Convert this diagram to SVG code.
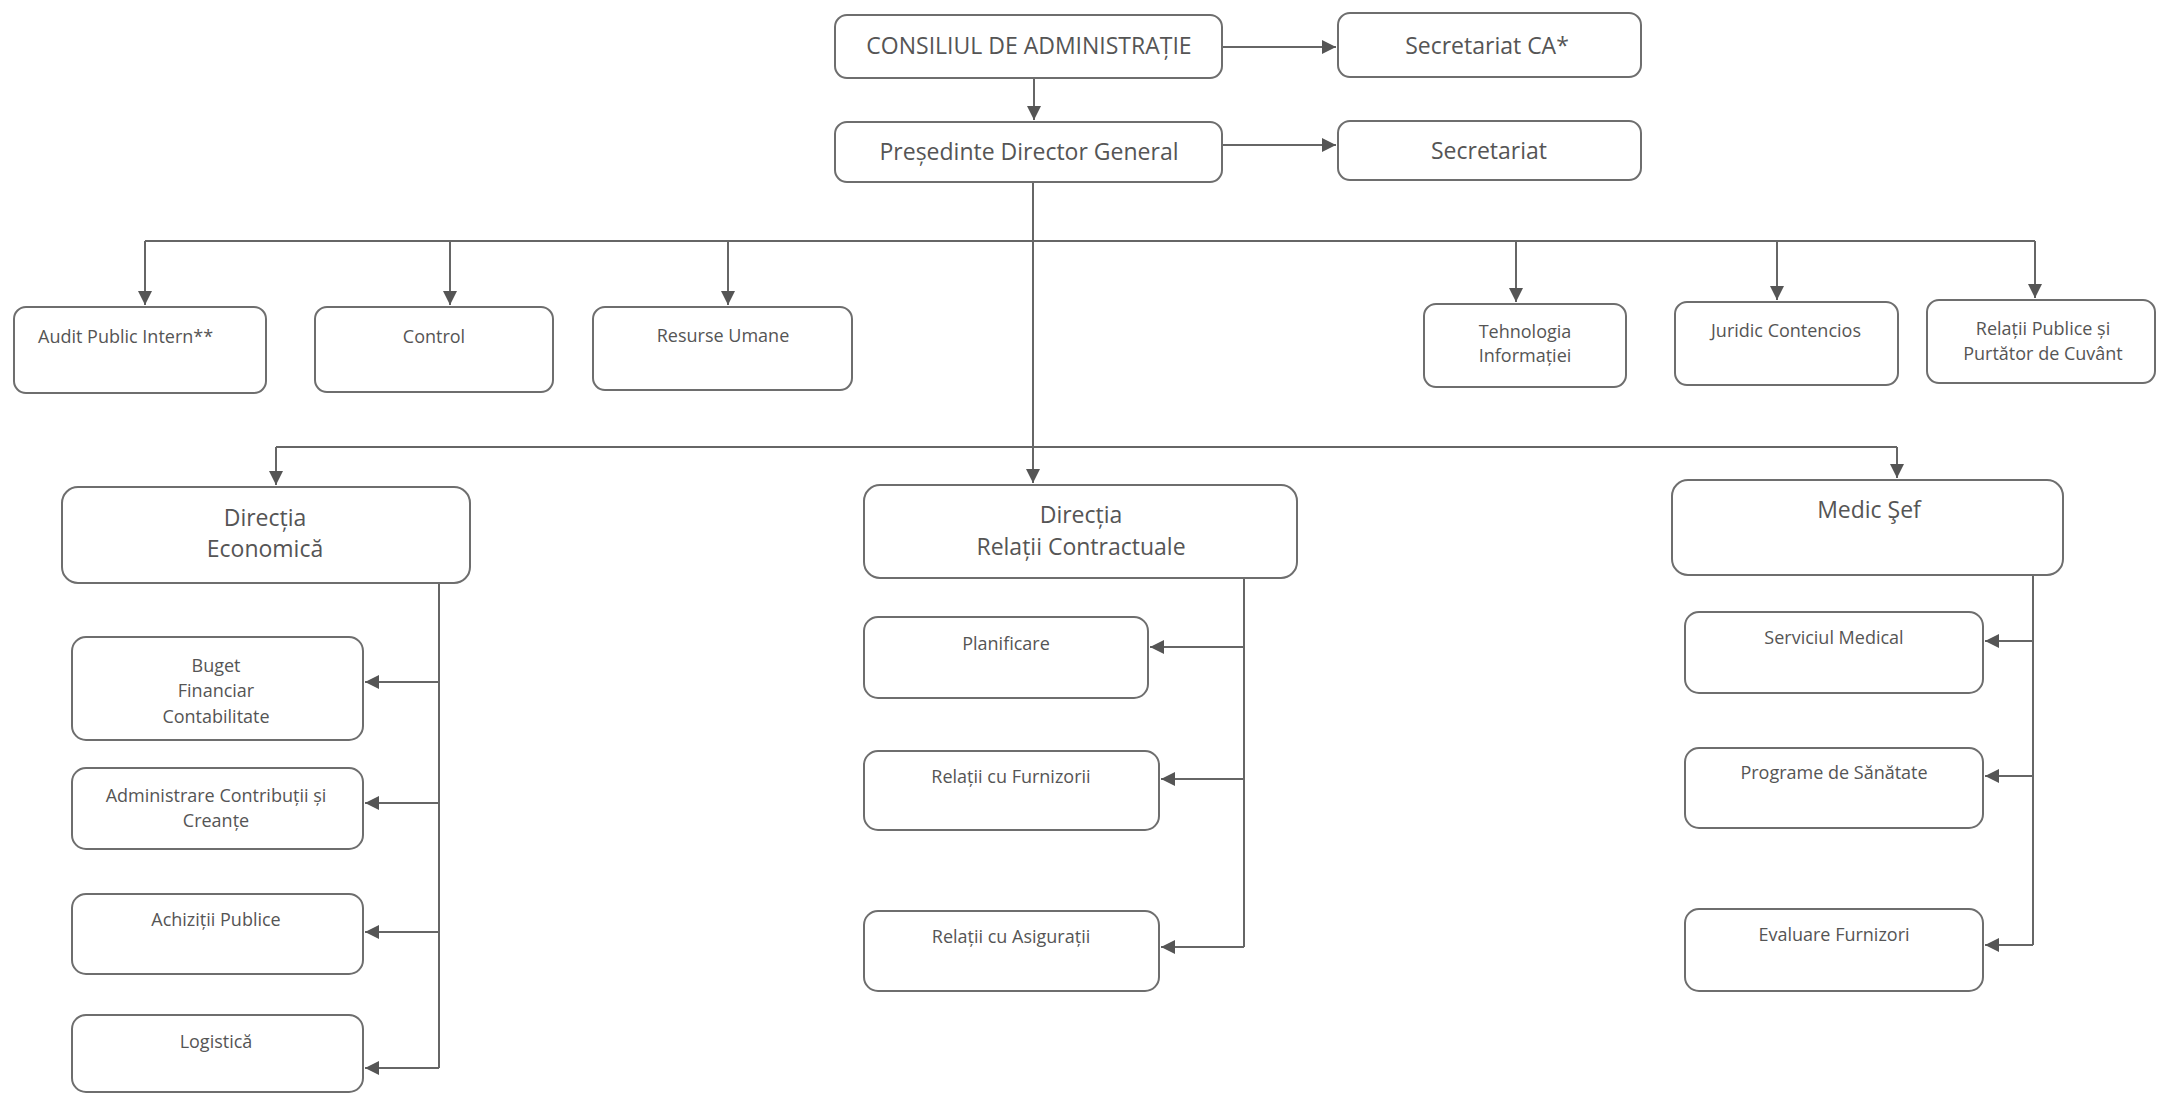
<svg xmlns="http://www.w3.org/2000/svg" width="2157" height="1094" viewBox="0 0 2157 1094">
<defs>
<style>
.box{fill:#fff;stroke:#6e6e6e;stroke-width:2}
.t{font-family:"Open Sans","Liberation Sans",sans-serif;fill:#555;text-anchor:middle}
.t1{font-size:23px}
.t2{font-size:18px}
.t3{font-size:23px}
.c{fill:none;stroke:#666;stroke-width:2}
</style>
<marker id="ar" markerUnits="userSpaceOnUse" markerWidth="16" markerHeight="14" refX="14" refY="7" orient="auto">
<path d="M0,0 L14,7 L0,14 Z" fill="#555"/>
</marker>
</defs>
<rect width="2157" height="1094" fill="#fff"/>

<g id="connectors">
<path class="c" d="M1222,47 H1336" marker-end="url(#ar)"/>
<path class="c" d="M1034,78 V120" marker-end="url(#ar)"/>
<path class="c" d="M1222,145 H1336" marker-end="url(#ar)"/>
<path class="c" d="M1033,182 V483" marker-end="url(#ar)"/>
<path class="c" d="M145,241 H2035"/>
<path class="c" d="M145,241 V305" marker-end="url(#ar)"/>
<path class="c" d="M450,241 V305" marker-end="url(#ar)"/>
<path class="c" d="M728,241 V305" marker-end="url(#ar)"/>
<path class="c" d="M1516,241 V302" marker-end="url(#ar)"/>
<path class="c" d="M1777,241 V300" marker-end="url(#ar)"/>
<path class="c" d="M2035,241 V298" marker-end="url(#ar)"/>
<path class="c" d="M276,447 H1897"/>
<path class="c" d="M276,447 V485" marker-end="url(#ar)"/>
<path class="c" d="M1897,447 V478" marker-end="url(#ar)"/>
<path class="c" d="M439,583 V1068"/>
<path class="c" d="M439,682 H365" marker-end="url(#ar)"/>
<path class="c" d="M439,803 H365" marker-end="url(#ar)"/>
<path class="c" d="M439,932 H365" marker-end="url(#ar)"/>
<path class="c" d="M439,1068 H365" marker-end="url(#ar)"/>
<path class="c" d="M1244,578 V947"/>
<path class="c" d="M1244,647 H1150" marker-end="url(#ar)"/>
<path class="c" d="M1244,779 H1161" marker-end="url(#ar)"/>
<path class="c" d="M1244,947 H1161" marker-end="url(#ar)"/>
<path class="c" d="M2033,575 V945"/>
<path class="c" d="M2033,641 H1985" marker-end="url(#ar)"/>
<path class="c" d="M2033,776 H1985" marker-end="url(#ar)"/>
<path class="c" d="M2033,945 H1985" marker-end="url(#ar)"/>
</g>

<g id="consiliu"><rect class="box" x="835" y="15" width="387" height="63" rx="12"/><text class="t t1" x="1029" y="54">CONSILIUL DE ADMINISTRAȚIE</text></g>
<g id="secretariat-ca"><rect class="box" x="1338" y="13" width="303" height="64" rx="12"/><text class="t t1" x="1487" y="54">Secretariat CA*</text></g>
<g id="presedinte"><rect class="box" x="835" y="122" width="387" height="60" rx="12"/><text class="t t1" x="1029" y="160">Președinte Director General</text></g>
<g id="secretariat"><rect class="box" x="1338" y="121" width="303" height="59" rx="12"/><text class="t t1" x="1489" y="159">Secretariat</text></g>

<g id="audit"><rect class="box" x="14" y="307" width="252" height="86" rx="12"/><text class="t t2" x="38" y="343" style="text-anchor:start">Audit Public Intern**</text></g>
<g id="control"><rect class="box" x="315" y="307" width="238" height="85" rx="12"/><text class="t t2" x="434" y="343">Control</text></g>
<g id="resurse"><rect class="box" x="593" y="307" width="259" height="83" rx="12"/><text class="t t2" x="723" y="342">Resurse Umane</text></g>
<g id="tehnologia"><rect class="box" x="1424" y="304" width="202" height="83" rx="12"/><text class="t t2" x="1525" y="338">Tehnologia</text><text class="t t2" x="1525" y="362">Informației</text></g>
<g id="juridic"><rect class="box" x="1675" y="302" width="223" height="83" rx="12"/><text class="t t2" x="1786" y="337">Juridic Contencios</text></g>
<g id="relatii-publice"><rect class="box" x="1927" y="300" width="228" height="83" rx="12"/><text class="t t2" x="2043" y="335">Relații Publice și</text><text class="t t2" x="2043" y="360">Purtător de Cuvânt</text></g>

<g id="directia-economica"><rect class="box" x="62" y="487" width="408" height="96" rx="16"/><text class="t t3" x="265" y="526">Direcția</text><text class="t t3" x="265" y="557">Economică</text></g>
<g id="directia-relatii"><rect class="box" x="864" y="485" width="433" height="93" rx="16"/><text class="t t3" x="1081" y="523">Direcția</text><text class="t t3" x="1081" y="555">Relații Contractuale</text></g>
<g id="medic-sef"><rect class="box" x="1672" y="480" width="391" height="95" rx="16"/><text class="t t3" x="1869" y="518">Medic Şef</text></g>

<g id="buget"><rect class="box" x="72" y="637" width="291" height="103" rx="14"/><text class="t t2" x="216" y="672">Buget</text><text class="t t2" x="216" y="697">Financiar</text><text class="t t2" x="216" y="723">Contabilitate</text></g>
<g id="administrare"><rect class="box" x="72" y="768" width="291" height="81" rx="14"/><text class="t t2" x="216" y="802">Administrare Contribuții și</text><text class="t t2" x="216" y="827">Creanțe</text></g>
<g id="achizitii"><rect class="box" x="72" y="894" width="291" height="80" rx="14"/><text class="t t2" x="216" y="926">Achiziții Publice</text></g>
<g id="logistica"><rect class="box" x="72" y="1015" width="291" height="77" rx="14"/><text class="t t2" x="216" y="1048">Logistică</text></g>

<g id="planificare"><rect class="box" x="864" y="617" width="284" height="81" rx="14"/><text class="t t2" x="1006" y="650">Planificare</text></g>
<g id="furnizorii"><rect class="box" x="864" y="751" width="295" height="79" rx="14"/><text class="t t2" x="1011" y="783">Relații cu Furnizorii</text></g>
<g id="asigurati"><rect class="box" x="864" y="911" width="295" height="80" rx="14"/><text class="t t2" x="1011" y="943">Relații cu Asigurații</text></g>

<g id="serviciul-medical"><rect class="box" x="1685" y="612" width="298" height="81" rx="14"/><text class="t t2" x="1834" y="644">Serviciul Medical</text></g>
<g id="programe"><rect class="box" x="1685" y="748" width="298" height="80" rx="14"/><text class="t t2" x="1834" y="779">Programe de Sănătate</text></g>
<g id="evaluare"><rect class="box" x="1685" y="909" width="298" height="82" rx="14"/><text class="t t2" x="1834" y="941">Evaluare Furnizori</text></g>
</svg>
